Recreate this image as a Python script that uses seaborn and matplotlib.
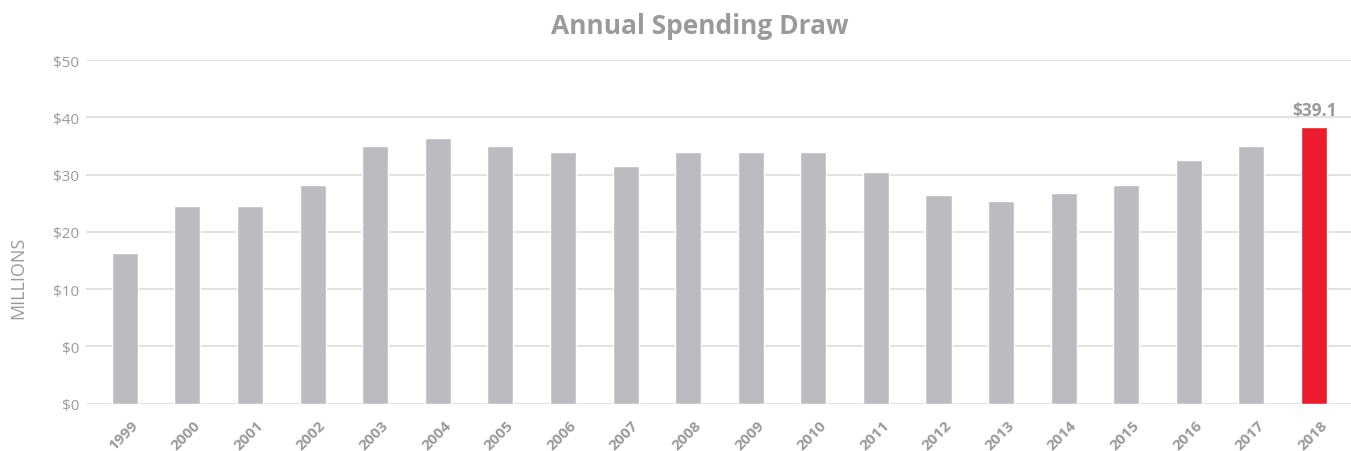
import matplotlib
matplotlib.use("Agg")
import matplotlib.pyplot as plt
import matplotlib.transforms as mtransforms
import seaborn as sns
import pandas as pd

years = [str(y) for y in range(1999, 2019)]
values = [21.3, 27.9, 27.9, 30.9, 36.5, 37.6, 36.5, 35.6, 33.6, 35.6,
          35.6, 35.6, 32.7, 29.5, 28.7, 29.8, 30.9, 34.4, 36.5, 39.1]
ytick_values = [0, 8.1, 16.2, 24.3, 32.4, 40.5, 48.6]
ytick_labels = ["$0", "$0", "$10", "$20", "$30", "$40", "$50"]
highlight_label = "$39.1"

sns.set_theme(style="white")
plt.rcParams['font.family'] = ['Open Sans', 'DejaVu Sans']

GREY_BAR = "#BBBCC0"
RED = "#EC1C2E"
TXT = "#9A9A9E"

df = pd.DataFrame({"year": years, "value": values})
colors = [GREY_BAR] * (len(years) - 1) + [RED]

fig = plt.figure(figsize=(13.51, 4.52), dpi=100)
ax = fig.add_axes([86 / 1351, 1 - 404.7 / 452, 1 - 86 / 1351, (404.7 - 61) / 452])
sns.barplot(data=df, x="year", y="value", hue="year", palette=colors,
            legend=False, width=0.416, saturation=1, ax=ax, zorder=3)

ax.set_xlim(-0.62, len(years) - 1 + 0.59)
ax.set_ylim(0, 48.6)
ax.set_yticks(ytick_values)
ax.set_yticklabels(ytick_labels)
ax.grid(axis="y", color="#DCDCDC", linewidth=1.2, zorder=0)
ax.set_axisbelow(True)
for s in ax.spines.values():
    s.set_visible(False)

ax.tick_params(axis="y", length=0, pad=5, labelsize=11, labelcolor=TXT)
ax.tick_params(axis="x", length=0, pad=10, labelsize=11, labelcolor=TXT)
offset = mtransforms.ScaledTranslation(6 / 100, 0, fig.dpi_scale_trans)
for lbl in ax.get_xticklabels():
    lbl.set_rotation(45)
    lbl.set_ha("right")
    lbl.set_va("top")
    lbl.set_rotation_mode("anchor")
    lbl.set_fontweight("bold")
    lbl.set_transform(lbl.get_transform() + offset)

ax.set_xlabel("")
ax.set_ylabel("")
fig.text(18 / 1351, 1 - 278 / 452, "MILLIONS", rotation=90, ha="center", va="center",
         color=TXT, fontsize=13)

ax.annotate(highlight_label, xy=(len(years) - 1, values[-1]), xytext=(0, 6),
            textcoords="offset points", ha="center", va="bottom",
            fontsize=12.5, fontweight="bold", color=TXT)

fig.text(700 / 1351, 1 - 27 / 452, "Annual Spending Draw", ha="center", va="center",
         fontsize=19, fontweight="bold", color=TXT)

fig.savefig("out.png", dpi=100)
